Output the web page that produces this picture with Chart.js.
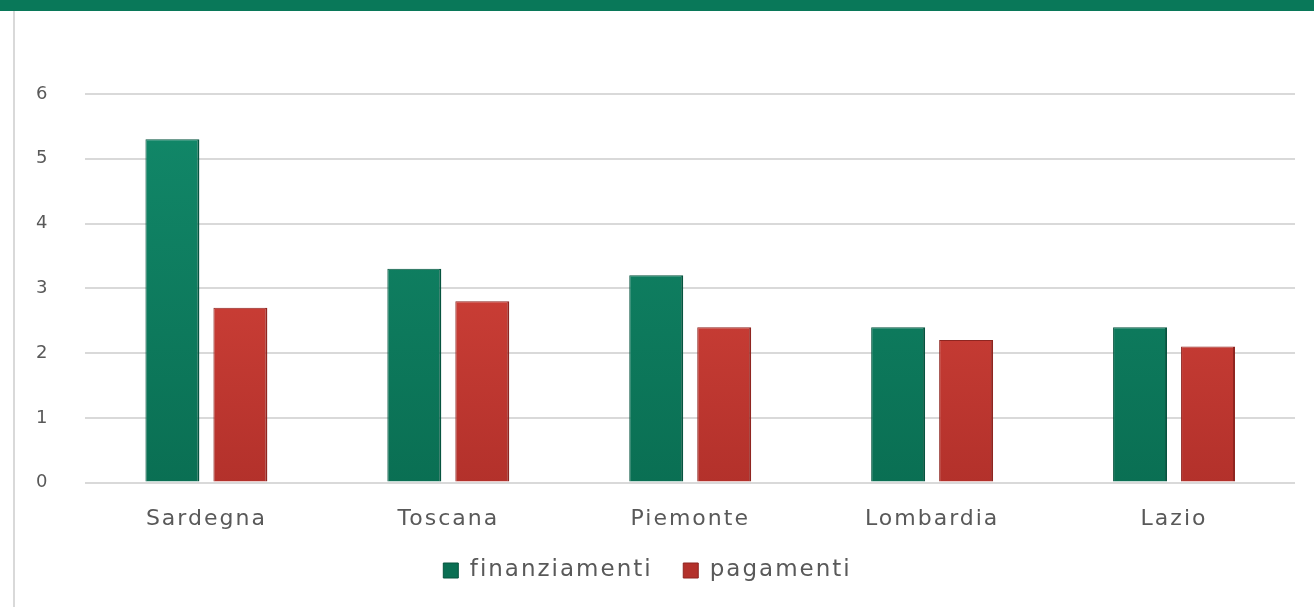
<!DOCTYPE html>
<html>
<head>
<meta charset="utf-8">
<script src="https://cdn.jsdelivr.net/npm/chart.js@4"></script>
<style>
  html, body { margin: 0; padding: 0; background: #fff; }
  #wrap { position: relative; width: 1314px; height: 607px; overflow: hidden; }
  #band { position: absolute; left: 0; top: 0; width: 1314px; height: 11px; background: #097859; }
  #edge { position: absolute; left: 13px; top: 11px; width: 2px; height: 596px; background: #d9d9d9; }
  canvas { position: absolute; left: 0; top: 0; }
</style>
</head>
<body>
<div id="wrap">
  <canvas id="grafico" width="1314" height="607"></canvas>
  <div id="band"></div>
  <div id="edge"></div>
</div>
<script>
// dati
const regioni = ['Sardegna', 'Toscana', 'Piemonte', 'Lombardia', 'Lazio'];
const finanziamenti = [5.3, 3.3, 3.2, 2.4, 2.4];
const pagamenti = [2.7, 2.8, 2.4, 2.2, 2.1];
const tickY = [0, 1, 2, 3, 4, 5, 6];

// gradiente verticale per dare l'effetto rilievo
function gradiente(top, bottom) {
    return function (context) {
        const chart = context.chart;
        const area = chart.chartArea;
        if (!area) return top;
        const g = chart.ctx.createLinearGradient(0, area.top, 0, area.bottom);
        g.addColorStop(0, top);
        g.addColorStop(1, bottom);
        return g;
    };
}

// il testo nell'originale e' molto largo: spaziatura tra le lettere
const spaziatura = {
    id: 'spaziatura',
    beforeUpdate: function (chart) { chart.ctx.letterSpacing = '2px'; },
    beforeDraw: function (chart) { chart.ctx.letterSpacing = '2px'; }
};

const ctx = document.getElementById('grafico').getContext('2d');
const chart = new Chart(ctx, {
    type: 'bar',
    plugins: [spaziatura],
    data: {
        labels: regioni,
        datasets: [{
            label: 'finanziamenti',
            data: finanziamenti,
            backgroundColor: gradiente('#12896a', '#0a6f53'),
            borderColor: '#06543f',
            borderWidth: { left: 1, right: 2, top: 1, bottom: 0 },
            categoryPercentage: 0.562,
            barPercentage: 0.794
        }, {
            label: 'pagamenti',
            data: pagamenti,
            backgroundColor: gradiente('#e04a40', '#b3312b'),
            borderColor: '#8f2520',
            borderWidth: { left: 1, right: 2, top: 1, bottom: 0 },
            categoryPercentage: 0.562,
            barPercentage: 0.794
        }]
    },
    options: {
        responsive: false,
        animation: false,
        layout: { padding: { left: 0, right: 19, top: 94, bottom: 15 } },
        plugins: {
            tooltip: { enabled: false },
            legend: {
                position: 'bottom',
                labels: {
                    color: '#595959',
                    font: { family: 'DejaVu Sans', size: 23 },
                    boxWidth: 15,
                    boxHeight: 15,
                    padding: 12,
                    generateLabels: function (chart) {
                        const items = Chart.defaults.plugins.legend.labels.generateLabels(chart);
                        // spazio piu' largo tra le due voci come nell'originale
                        items.forEach(function (item, i) {
                            if (i < items.length - 1) item.text = item.text + '  ';
                        });
                        return items;
                    }
                }
            }
        },
        scales: {
            x: {
                grid: { display: false },
                border: { display: false },
                afterFit: function (scale) {
                    scale.paddingLeft = 0;
                    scale.paddingRight = 0;
                },
                ticks: {
                    color: '#595959',
                    font: { family: 'DejaVu Sans', size: 22 },
                    padding: 15
                }
            },
            y: {
                min: 0,
                max: 6,
                afterBuildTicks: function (axis) {
                    axis.ticks = tickY.map(v => ({ value: v }));
                },
                grid: { color: '#d9d9d9', lineWidth: 2, drawTicks: false },
                border: { display: false },
                ticks: {
                    color: '#595959',
                    font: { family: 'DejaVu Sans', size: 18 },
                    padding: 36
                }
            }
        }
    }
});
</script>
</body>
</html>
